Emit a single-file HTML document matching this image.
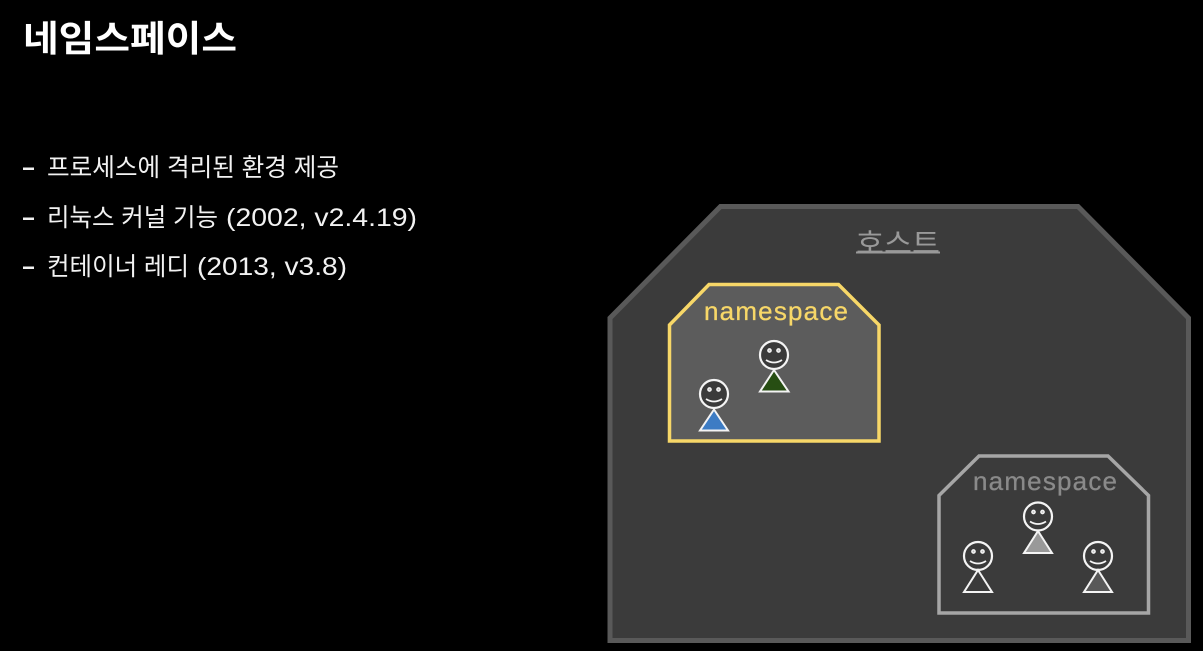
<!DOCTYPE html>
<html lang="ko"><head><meta charset="utf-8"><style>
html,body{margin:0;padding:0;background:#000;width:1203px;height:651px;overflow:hidden}
svg{display:block}
text{font-family:"Liberation Sans","Noto Sans CJK KR",sans-serif}
</style></head><body>
<svg width="1203" height="651" viewBox="0 0 1203 651" xmlns="http://www.w3.org/2000/svg">
<defs>
<g id="face" fill="none" stroke="#f4f4f4">
<circle cx="0" cy="0" r="14" fill="#3a3a3a" stroke-width="2.200"/>
<circle cx="-4.500" cy="-4.500" r="1.600" stroke-width="1.500" fill="#bbb"/>
<circle cx="4.500" cy="-4.500" r="1.600" stroke-width="1.500" fill="#bbb"/>
<path d="M-8 5 Q0 10 8 5" stroke-width="1.800"/>
</g>
</defs>
<rect width="1203" height="651" fill="#000"/>
<text x="23" y="51" font-size="36" font-weight="700" fill="#fff" textLength="214" lengthAdjust="spacingAndGlyphs">네임스페이스</text>
<g fill="#f2f2f2" font-size="25">
<rect x="23" y="167.500" width="11" height="2.500"/>
<rect x="23" y="217.500" width="11" height="2.500"/>
<rect x="23" y="266.500" width="11" height="2.500"/>
<text x="47" y="176" textLength="292" lengthAdjust="spacingAndGlyphs">프로세스에 격리된 환경 제공</text>
<text x="47" y="226" textLength="171" lengthAdjust="spacingAndGlyphs">리눅스 커널 기능</text>
<text x="226" y="226" textLength="191" lengthAdjust="spacingAndGlyphs">(2002, v2.4.19)</text>
<text x="47" y="275" textLength="142" lengthAdjust="spacingAndGlyphs">컨테이너 레디</text>
<text x="197" y="275" textLength="150" lengthAdjust="spacingAndGlyphs">(2013, v3.8)</text>
</g>
<path d="M720.500 206.500 H1078 L1188.500 318 V640.500 H610 V318 Z" fill="#3b3b3b" stroke="#595959" stroke-width="5"/>
<text x="856" y="253" font-size="28" fill="#999" textLength="84" lengthAdjust="spacingAndGlyphs">호스트</text>
<rect x="856" y="251.500" width="84" height="2" fill="#999"/>
<path d="M709 284.500 H838.500 L879 325 V441 H669.500 V325 Z" fill="#5c5c5c" stroke="#f7d768" stroke-width="3.500"/>
<text x="704" y="320" font-size="26" fill="#f7d768" stroke="#f7d768" stroke-width="0.300" textLength="144" lengthAdjust="spacing">namespace</text>
<use href="#face" x="774" y="355"/>
<path d="M774 370 L788.500 391.500 H760 Z" fill="#274e13" stroke="#f4f4f4" stroke-width="2"/>
<use href="#face" x="714" y="394"/>
<path d="M714 409.500 L728 430.500 H700 Z" fill="#3d7cc4" stroke="#f4f4f4" stroke-width="2"/>
<path d="M979 456 H1108 L1148.500 495.500 V613 H939 V495.500 Z" fill="#3b3b3b" stroke="#a6a6a6" stroke-width="3.500"/>
<text x="973" y="490" font-size="26" fill="#8a8a8a" stroke="#8a8a8a" stroke-width="0.300" textLength="144" lengthAdjust="spacing">namespace</text>
<use href="#face" x="1038" y="516.500"/>
<path d="M1038 531 L1052 553 H1024 Z" fill="#999" stroke="#f4f4f4" stroke-width="2"/>
<use href="#face" x="978" y="556"/>
<path d="M978 570 L992 592 H964 Z" fill="#3b3b3b" stroke="#f4f4f4" stroke-width="2"/>
<use href="#face" x="1098" y="556"/>
<path d="M1098 570 L1112 592 H1084 Z" fill="#595959" stroke="#f4f4f4" stroke-width="2"/>
</svg>
</body></html>
